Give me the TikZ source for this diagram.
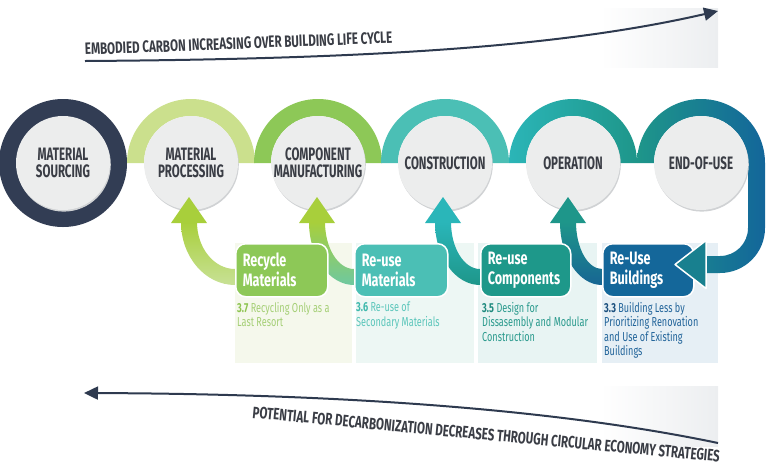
\documentclass[tikz,border=0pt]{standalone}
\usepackage{fontspec}
\newfontfamily\cnd[FakeStretch=0.7]{Fira Sans}
\newfontfamily\cndn[FakeStretch=0.64]{Fira Sans}
\usetikzlibrary{arrows.meta,calc}
\definecolor{cnavy}{HTML}{323D54}
\definecolor{cline}{HTML}{2E3A4F}
\definecolor{ctext}{HTML}{3A3D45}
\definecolor{cgrey}{HTML}{ECEDED}
\definecolor{cshadow}{HTML}{D0D2D4}
\definecolor{arcA}{HTML}{CBE08D}
\definecolor{arcB}{HTML}{8DC857}
\definecolor{arcC}{HTML}{4BBFB5}
\definecolor{arcDl}{HTML}{2BB5B7}
\definecolor{arcDr}{HTML}{1E968A}
\definecolor{arcEr}{HTML}{13669A}
\definecolor{boxA}{HTML}{8DC857}
\definecolor{boxB}{HTML}{4BBFB5}
\definecolor{boxC}{HTML}{1E988A}
\definecolor{boxD}{HTML}{14679A}
\definecolor{bgA}{HTML}{F5F8EC}
\definecolor{bgB}{HTML}{EDF7F4}
\definecolor{bgC}{HTML}{E8F4F3}
\definecolor{bgD}{HTML}{E6EFF5}
\definecolor{txA}{HTML}{A5CF76}
\definecolor{txAb}{HTML}{8DC450}
\definecolor{txB}{HTML}{5CC6BB}
\definecolor{txBb}{HTML}{3FB9AD}
\definecolor{txC}{HTML}{2A9A8D}
\definecolor{txCb}{HTML}{1E8A7E}
\definecolor{txD}{HTML}{22649A}
\definecolor{txDb}{HTML}{1B4F7E}
\definecolor{lime}{HTML}{A8CF3B}
\definecolor{limepale}{HTML}{C8E196}
\definecolor{tealgreen}{HTML}{6EC8A0}
\definecolor{tealhead}{HTML}{2AB6B9}
\definecolor{bluish}{HTML}{176593}
\definecolor{eouhead}{HTML}{18808F}
\definecolor{fadegrey}{HTML}{ECEEF0}
\tikzset{
  ring/.style={circle, fill=cgrey, minimum size=94pt, inner sep=0pt, align=center,
    text=ctext, font=\cndn\bfseries\fontsize{18}{17.5}\selectfont},
  hbox/.style={anchor=north west, rounded corners=10pt, draw=white, line width=1.5pt,
    text=white, align=left, inner xsep=7pt, inner ysep=0pt, minimum height=53pt,
    font=\cnd\bfseries\fontsize{18}{20}\selectfont},
  desc/.style={anchor=north west, align=left, inner sep=0pt,
    font=\cnd\fontsize{13}{14.5}\selectfont},
  captext/.style={anchor=base west, inner sep=0pt, text=ctext,
    font=\cnd\bfseries\fontsize{16.5}{18}\selectfont},
  lifeline/.style={cline, line width=2pt, -{Triangle[length=14pt,width=13pt]}}
}
\begin{document}
\begin{tikzpicture}[x=1pt,y=-1pt]
\useasboundingbox (0,0) rectangle (768,467);

% faint fades
\shade[left color=white,right color=fadegrey] (600,8) rectangle (718,67);
\shade[left color=white,right color=fadegrey] (600,386) rectangle (718,446);

% column backgrounds
\fill[bgA] (235,243) rectangle (352,363);
\fill[bgB] (356,243) rectangle (474,363);
\fill[bgC] (478,243) rectangle (597,363);
\fill[bgD] (602,243) rectangle (718,363);

% rings and arcs
\fill[cnavy] (63,163) circle (64);
\fill[arcA] (127,163) arc[start angle=180,end angle=360,radius=64] -- (238,163) arc[start angle=0,end angle=-180,radius=47] -- cycle;
\fill[arcB] (254,163) arc[start angle=180,end angle=360,radius=64] -- (365,163) arc[start angle=0,end angle=-180,radius=47] -- cycle;
\fill[arcC] (381,163) arc[start angle=180,end angle=360,radius=64] -- (492,163) arc[start angle=0,end angle=-180,radius=47] -- cycle;
\shade[left color=arcDl,right color=arcDr] (509,163) arc[start angle=180,end angle=360,radius=64] -- (620,163) arc[start angle=0,end angle=-180,radius=47] -- cycle;
\shade[left color=arcDr,right color=arcEr] (637,163) arc[start angle=180,end angle=360,radius=64]
  -- (765,228) arc[start angle=0,end angle=90,radius=45] -- (706,273) -- (706,256) -- (720,256)
  arc[start angle=90,end angle=0,radius=28] -- (748,163) arc[start angle=0,end angle=-180,radius=47] -- cycle;

% circle shadows
\foreach \cx in {63,191,318,445,573,701} \fill[cshadow] (\cx+0.8,164.6) circle (47);

% stage nodes
\node[ring] (n1) at (63,163) {MATERIAL\\SOURCING};
\node[ring] (n2) at (191,163) {MATERIAL\\PROCESSING};
\node[ring] (n3) at (318,163) {COMPONENT\\MANUFACTURING};
\node[ring] (n4) at (445,163) {CONSTRUCTION};
\node[ring] (n5) at (573,163) {OPERATION};
\node[ring] (n6) at (701,163) {END-OF-USE};

% arrow tips
\coordinate (t1) at (189,197);
\coordinate (t2) at (317,197);
\coordinate (t3) at (443,197);
\coordinate (t4) at (568,197);
\coordinate (t6) at (675,264.5);

% shafts
\shade[top color=lime,bottom color=limepale] ($(t1)+(-8,25)$) arc[start angle=180,end angle=90,x radius=54,y radius=63]
  -- ++(10,0) -- ++(0,-16) -- ++(-10,0) arc[start angle=90,end angle=180,x radius=38,y radius=47] -- cycle;
\shade[top color=lime,bottom color=tealgreen] ($(t2)+(-8,25)$) arc[start angle=180,end angle=90,x radius=45,y radius=63]
  -- ++(10,0) -- ++(0,-16) -- ++(-10,0) arc[start angle=90,end angle=180,x radius=29,y radius=47] -- cycle;
\shade[top color=tealhead,bottom color=arcDr] ($(t3)+(-8,25)$) arc[start angle=180,end angle=90,x radius=45,y radius=63]
  -- ++(10,0) -- ++(0,-16) -- ++(-10,0) arc[start angle=90,end angle=180,x radius=29,y radius=47] -- cycle;
\shade[top color=arcDr,bottom color=bluish] ($(t4)+(-8,25)$) arc[start angle=180,end angle=90,x radius=42,y radius=63]
  -- ++(10,0) -- ++(0,-16) -- ++(-10,0) arc[start angle=90,end angle=180,x radius=26,y radius=47] -- cycle;

% heads
\fill[lime] (t1) -- ++(-18,26) -- ++(36,0) -- cycle;
\fill[lime] (t2) -- ++(-18,26) -- ++(36,0) -- cycle;
\fill[tealhead] (t3) -- ++(-18,26) -- ++(36,0) -- cycle;
\fill[arcDr] (t4) -- ++(-18,26) -- ++(36,0) -- cycle;

% strategy boxes
\node[hbox, fill=boxA, text width=78pt] (b1) at (235,243) {Recycle\\Materials};
\node[hbox, fill=boxB, text width=79pt] (b2) at (354,243) {Re-use\\Materials};
\node[hbox, fill=boxC, text width=76pt] (b3) at (480,243) {Re-use\\Components};
\node[hbox, fill=boxD, text width=77pt] (b4) at (602,243) {Re-Use\\Buildings};

\filldraw[fill=eouhead, draw=white, line width=1.5pt, line join=round] (t6) -- ++(31,-24) -- ++(0,48) -- cycle;

% descriptions
\node[desc, text=txA] (d1) at (237,302) {{\bfseries\color{txAb}3.7} Recycling Only as a\\Last Resort};
\node[desc, text=txB] (d2) at (356,302) {{\bfseries\color{txBb}3.6} Re-use of\\Secondary Materials};
\node[desc, text=txC] (d3) at (482,302) {{\bfseries\color{txCb}3.5} Design for\\Dissasembly and Modular\\Construction};
\node[desc, text=txD] (d4) at (604,302) {{\bfseries\color{txDb}3.3} Building Less by\\Prioritizing Renovation\\and Use of Existing\\Buildings};

% life cycle arrows
\coordinate (ts) at (85,61);
\coordinate (te) at (718,11);
\draw[lifeline] (ts) .. controls (390,59) and (570,45) .. (te);
\node[captext, rotate=2.2] (tt) at (85,55) {EMBODIED CARBON INCREASING OVER BUILDING LIFE CYCLE};

\coordinate (bs) at (718,443);
\coordinate (be) at (84,393);
\draw[lifeline] (bs) .. controls (560,410) and (350,394) .. (be);
\node[captext, rotate=-5.4] (bt) at (252,418) {POTENTIAL FOR DECARBONIZATION DECREASES THROUGH CIRCULAR ECONOMY STRATEGIES};
\end{tikzpicture}
\end{document}
